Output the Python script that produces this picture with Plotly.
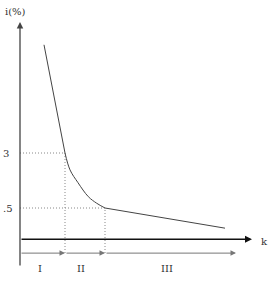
import plotly.graph_objects as go

# Curve i(k) (k: arbitrary units, i in %)
line_k = [2.4, 4.5]
line_i = [5.95, 3.0]
bend_k = [4.5, 5.0, 5.8, 6.83, 7.67, 8.5]
bend_i = [3.0, 2.54, 2.19, 1.81, 1.63, 1.5]
tail_k = [8.5, 20.5]
tail_i = [1.5, 0.95]

k1, k2 = 4.5, 8.5          # region boundaries
i_hi, i_lo = 3.0, 1.5      # marked levels
tick_labels = ["3", ".5"]
region_labels = ["I", "II", "III"]
region_centers = [2.0, 6.1, 14.7]

k_axis_level = 0.65        # where the k axis crosses
region_arrow_level = 0.27
k_axis_end = 23.2
region_end = 21.6
i_axis_top = 6.57
i_axis_bottom = -0.11

FONT = "DejaVu Serif"
TXT = "#333"
fig = go.Figure()

# dotted guide lines
dot = dict(color="#888", width=1, dash="1px,2px")
fig.add_trace(go.Scatter(x=[0, k1, k1], y=[i_hi, i_hi, region_arrow_level], mode="lines",
                         line=dot, hoverinfo="skip"))
fig.add_trace(go.Scatter(x=[0, k2, k2], y=[i_lo, i_lo, region_arrow_level], mode="lines",
                         line=dot, hoverinfo="skip"))
# curve
cl = dict(color="#444", width=1)
fig.add_trace(go.Scatter(x=line_k, y=line_i, mode="lines", line=cl, hoverinfo="skip"))
fig.add_trace(go.Scatter(x=bend_k, y=bend_i, mode="lines",
                         line=dict(cl, shape="spline", smoothing=1.0), hoverinfo="skip"))
fig.add_trace(go.Scatter(x=tail_k, y=tail_i, mode="lines", line=cl, hoverinfo="skip"))

anns = []
def arrow(x0, y0, x1, y1, color, width, size=1.0):
    anns.append(dict(x=x1, y=y1, ax=x0, ay=y0, xref="x", yref="y", axref="x", ayref="y",
                     text="", showarrow=True, arrowhead=2, arrowsize=size,
                     arrowwidth=width, arrowcolor=color, standoff=0, startstandoff=0))

# i axis
arrow(0, i_axis_bottom, 0, i_axis_top, "#444", 1.3)
# k axis
arrow(0, k_axis_level, k_axis_end, k_axis_level, "#111", 1.4)
# region arrows
arrow(0, region_arrow_level, k1, region_arrow_level, "#777", 1, 1.1)
arrow(k1, region_arrow_level, k2, region_arrow_level, "#777", 1, 1.1)
arrow(k2, region_arrow_level, region_end, region_arrow_level, "#777", 1, 1.1)

for t, lvl in zip(tick_labels, [i_hi, i_lo]):
    anns.append(dict(x=-1.95, y=lvl, xref="x", yref="y", text=t, showarrow=False,
                     xanchor="left", font=dict(family=FONT, size=10, color=TXT)))
for t, c in zip(region_labels, region_centers):
    anns.append(dict(x=c, y=-0.14, xref="x", yref="y", text=t, showarrow=False,
                     font=dict(family=FONT, size=10, color=TXT)))
anns.append(dict(x=24.4, y=0.6, xref="x", yref="y", text="k", showarrow=False,
                 font=dict(family=FONT, size=10, color=TXT)))
anns.append(dict(x=-0.45, y=6.87, xref="x", yref="y", text="i(%)", showarrow=False,
                 font=dict(family=FONT, size=10, color=TXT)))

fig.update_layout(
    width=272, height=283, margin=dict(l=0, r=0, t=0, b=0),
    paper_bgcolor="white", plot_bgcolor="white", showlegend=False,
    xaxis=dict(range=[-2, 25.2], visible=False, fixedrange=True),
    yaxis=dict(range=[-0.545, 7.172], visible=False, fixedrange=True),
    annotations=anns,
)
fig.write_html("out.html", config={"displayModeBar": False})
